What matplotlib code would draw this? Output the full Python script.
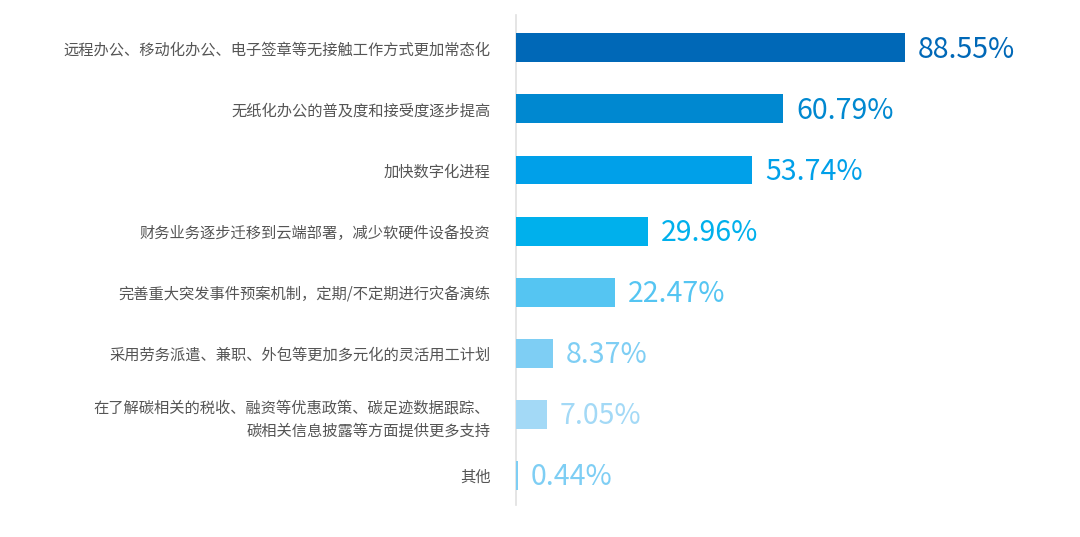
import matplotlib
matplotlib.use("Agg")
import matplotlib.pyplot as plt

plt.rcParams['font.family'] = ['Noto Sans CJK SC', 'DejaVu Sans']

labels = [
    "远程办公、移动化办公、电子签章等无接触工作方式更加常态化",
    "无纸化办公的普及度和接受度逐步提高",
    "加快数字化进程",
    "财务业务逐步迁移到云端部署，减少软硬件设备投资",
    "完善重大突发事件预案机制，定期/不定期进行灾备演练",
    "采用劳务派遣、兼职、外包等更加多元化的灵活用工计划",
    "在了解碳相关的税收、融资等优惠政策、碳足迹数据跟踪、\n碳相关信息披露等方面提供更多支持",
    "其他",
]
values = [88.55, 60.79, 53.74, 29.96, 22.47, 8.37, 7.05, 0.44]
colors = ["#0068B7", "#0088D0", "#00A0E9", "#00B0EC", "#55C5F2",
          "#7ECEF4", "#A3D9F6", "#7ECEF4"]

fig = plt.figure(figsize=(10.8, 5.37), dpi=100)
ax = fig.add_axes([516 / 1080, 1 - 505 / 537, (1070 - 516) / 1080, 490 / 537])

ypos = list(range(len(values)))
ax.barh(ypos, values, height=0.475, color=colors, zorder=3)
for y, v, c in zip(ypos, values, colors):
    ax.text(v + 3, y + 0.03, f"{v:.2f}%", color=c, fontsize=20.5, va="center", ha="left")

ax.set_xlim(0, 554 / 4.39)
ax.set_ylim(7.49, -0.54)
ax.set_yticks(ypos)
ax.set_yticklabels(labels, fontsize=11, color="#555555", linespacing=1.5)
ax.tick_params(axis="y", length=0, pad=18.5)
ax.set_xticks([])
for s in ["top", "right", "bottom"]:
    ax.spines[s].set_visible(False)
ax.spines["left"].set_color("#e0e0e0")
ax.spines["left"].set_linewidth(1.2)

fig.savefig("out.png", dpi=100, facecolor="white")
